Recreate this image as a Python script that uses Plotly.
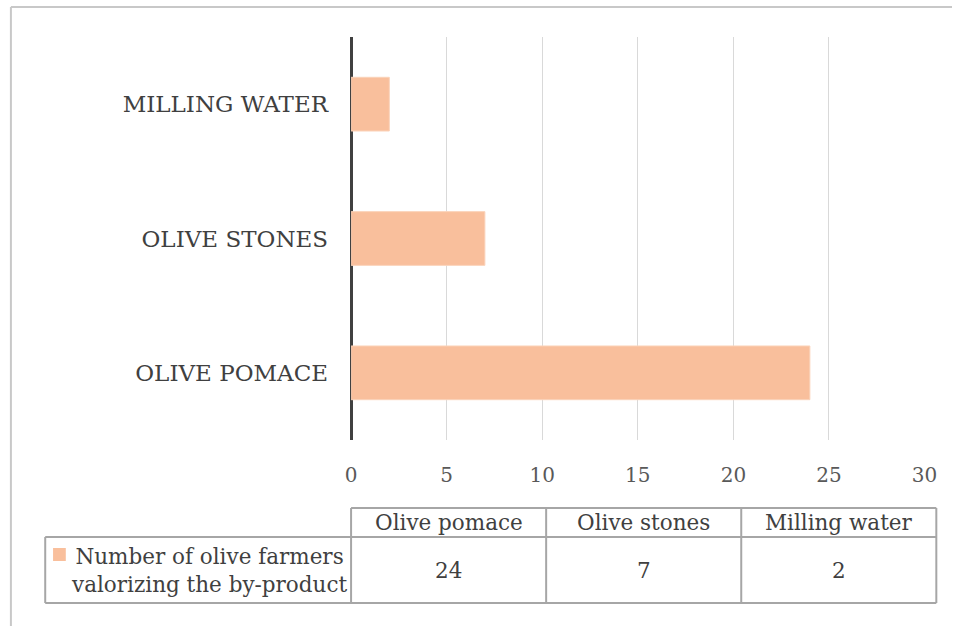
import plotly.graph_objects as go

# ---- data ----
categories = ["OLIVE POMACE", "OLIVE STONES", "MILLING WATER"]
values = [24, 7, 2]
table_headers = ["Olive pomace", "Olive stones", "Milling water"]
series_name = "Number of olive farmers<br>valorizing the by-product"
x_ticks = [0, 5, 10, 15, 20, 25, 30]

W, H = 965, 626
FONT = "DejaVu Serif"
TXT = "#404040"
BAR = "#F9BF9C"
LINE = "#A6A6A6"
TS = 21.5

def px(x):
    return x / W

def py(y):
    return 1 - y / H

fig = go.Figure()
fig.add_trace(go.Bar(
    y=categories, x=values, orientation="h", width=0.4,
    marker=dict(color=BAR, line=dict(color="#FBD3BA", width=1)),
    name=series_name, showlegend=False,
))

fig.update_layout(
    width=W, height=H,
    margin=dict(l=0, r=0, t=0, b=0),
    paper_bgcolor="white", plot_bgcolor="white",
    font=dict(family=FONT, size=20, color=TXT),
    xaxis=dict(
        domain=[px(352), px(937)], range=[0, 30], tickvals=x_ticks,
        showgrid=True, gridcolor="#D9D9D9", gridwidth=1,
        zeroline=True, zerolinecolor="#404040", zerolinewidth=3,
        showline=False, ticks="", ticklabelstandoff=21,
        tickfont=dict(family=FONT, size=20, color="#595959"),
        fixedrange=True,
    ),
    yaxis=dict(
        domain=[py(440), py(37)], range=[-0.5, 2.5],
        categoryorder="array", categoryarray=categories,
        showgrid=False, zeroline=False, showline=False, ticks="",
        ticklabelstandoff=22,
        tickfont=dict(family=FONT, size=23, color=TXT),
    ),
)

shapes = []
def hline(x0, x1, y, color=LINE, w=2):
    shapes.append(dict(type="line", xref="paper", yref="paper",
                       x0=px(x0), x1=px(x1), y0=py(y), y1=py(y),
                       line=dict(color=color, width=w)))
def vline(x, y0, y1, color=LINE, w=2):
    shapes.append(dict(type="line", xref="paper", yref="paper",
                       x0=px(x), x1=px(x), y0=py(y0), y1=py(y1),
                       line=dict(color=color, width=w)))

# outer chart frame (partially visible)
hline(5, 965, 7, color="#C8C8C8", w=2)
vline(5, 7, 626, color="#C8C8C8", w=2)

# data table grid
col_x = [352, 551, 750, 949]
hline(col_x[0], col_x[-1], 508)
hline(40, col_x[-1], 537)
hline(40, col_x[-1], 603)
vline(40, 537, 603)
for cx in col_x:
    vline(cx, 508, 603)

# legend key square
shapes.append(dict(type="rect", xref="paper", yref="paper",
                   x0=px(48), x1=px(61), y0=py(561), y1=py(548),
                   fillcolor=BAR, line=dict(width=0)))

annotations = []
for i, (hdr, val) in enumerate(zip(table_headers, values)):
    cx = (col_x[i] + col_x[i + 1]) / 2
    annotations.append(dict(x=px(cx), y=py(522), xref="paper", yref="paper",
                            text=hdr, showarrow=False, xanchor="center", yanchor="middle",
                            font=dict(family=FONT, size=TS, color=TXT)))
    annotations.append(dict(x=px(cx), y=py(570), xref="paper", yref="paper",
                            text=str(val), showarrow=False, xanchor="center", yanchor="middle",
                            font=dict(family=FONT, size=TS, color=TXT)))

annotations.append(dict(x=px(207), y=py(570), xref="paper", yref="paper",
                        text=series_name, showarrow=False, xanchor="center", yanchor="middle",
                        align="center",
                        font=dict(family=FONT, size=TS, color=TXT)))

fig.update_layout(shapes=shapes, annotations=annotations)
fig.write_html("out.html", config={"displayModeBar": False},
               post_script="document.body.style.margin='0px';document.body.style.overflow='hidden';")
